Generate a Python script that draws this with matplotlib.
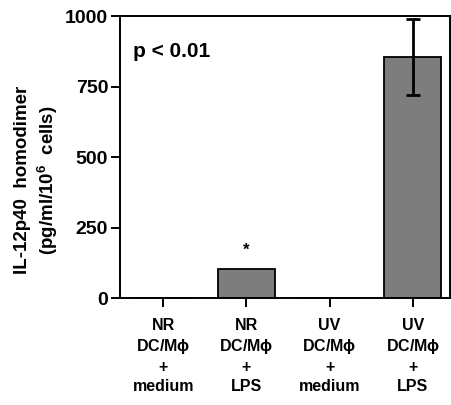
import matplotlib
matplotlib.use("Agg")
import matplotlib.pyplot as plt

categories = ["NR\nDC/M$\\phi$\n+\nmedium", "NR\nDC/M$\\phi$\n+\nLPS",
              "UV\nDC/M$\\phi$\n+\nmedium", "UV\nDC/M$\\phi$\n+\nLPS"]
values = [0, 103, 0, 855]
errors = [0, 0, 0, 135]
yticks = [0, 250, 500, 750, 1000]

plt.rcParams['font.family'] = ['Liberation Sans', 'DejaVu Sans']
plt.rcParams['font.weight'] = 'bold'
plt.rcParams['mathtext.fontset'] = 'custom'
plt.rcParams['mathtext.rm'] = 'Liberation Sans:bold'
plt.rcParams['mathtext.it'] = 'Liberation Sans:bold'

fig = plt.figure(figsize=(4.51, 4.05), dpi=100)
ax = fig.add_axes([0.266, 0.264, 0.732, 0.696])

x = list(range(len(values)))
ax.bar(x, values, width=0.68, color='#7d7d7d', edgecolor='black', linewidth=1.3)
ax.errorbar([x[3]], [values[3]], yerr=[errors[3]], fmt='none', ecolor='black',
            elinewidth=2, capsize=4.8, capthick=2)

ax.set_xlim(-0.52, 3.45)
ax.set_ylim(0, 1000)
ax.set_yticks(yticks)
ax.set_yticklabels([str(t) for t in yticks], fontsize=14, fontweight='bold')
ax.set_xticks(x)
ax.set_xticklabels(categories, fontsize=11.5, fontweight='bold', linespacing=1.3)
ax.tick_params(axis='both', direction='out', length=6.5, width=1.4)
ax.tick_params(axis='y', pad=2)
ax.tick_params(axis='x', pad=8)
for s in ax.spines.values():
    s.set_linewidth(1.4)

ax.text(0.04, 0.855, "p < 0.01", transform=ax.transAxes, fontsize=15, fontweight='bold')
ax.text(1, values[1] + 40, "*", ha='center', va='bottom', fontsize=12, fontweight='bold')

ax.set_ylabel("IL-12p40  homodimer\n(pg/ml/10$^6$  cells)", fontsize=13.5,
              fontweight='bold', linespacing=1.25)
ax.yaxis.set_label_coords(-0.183, 0.42)

fig.savefig("out.png", dpi=100)
